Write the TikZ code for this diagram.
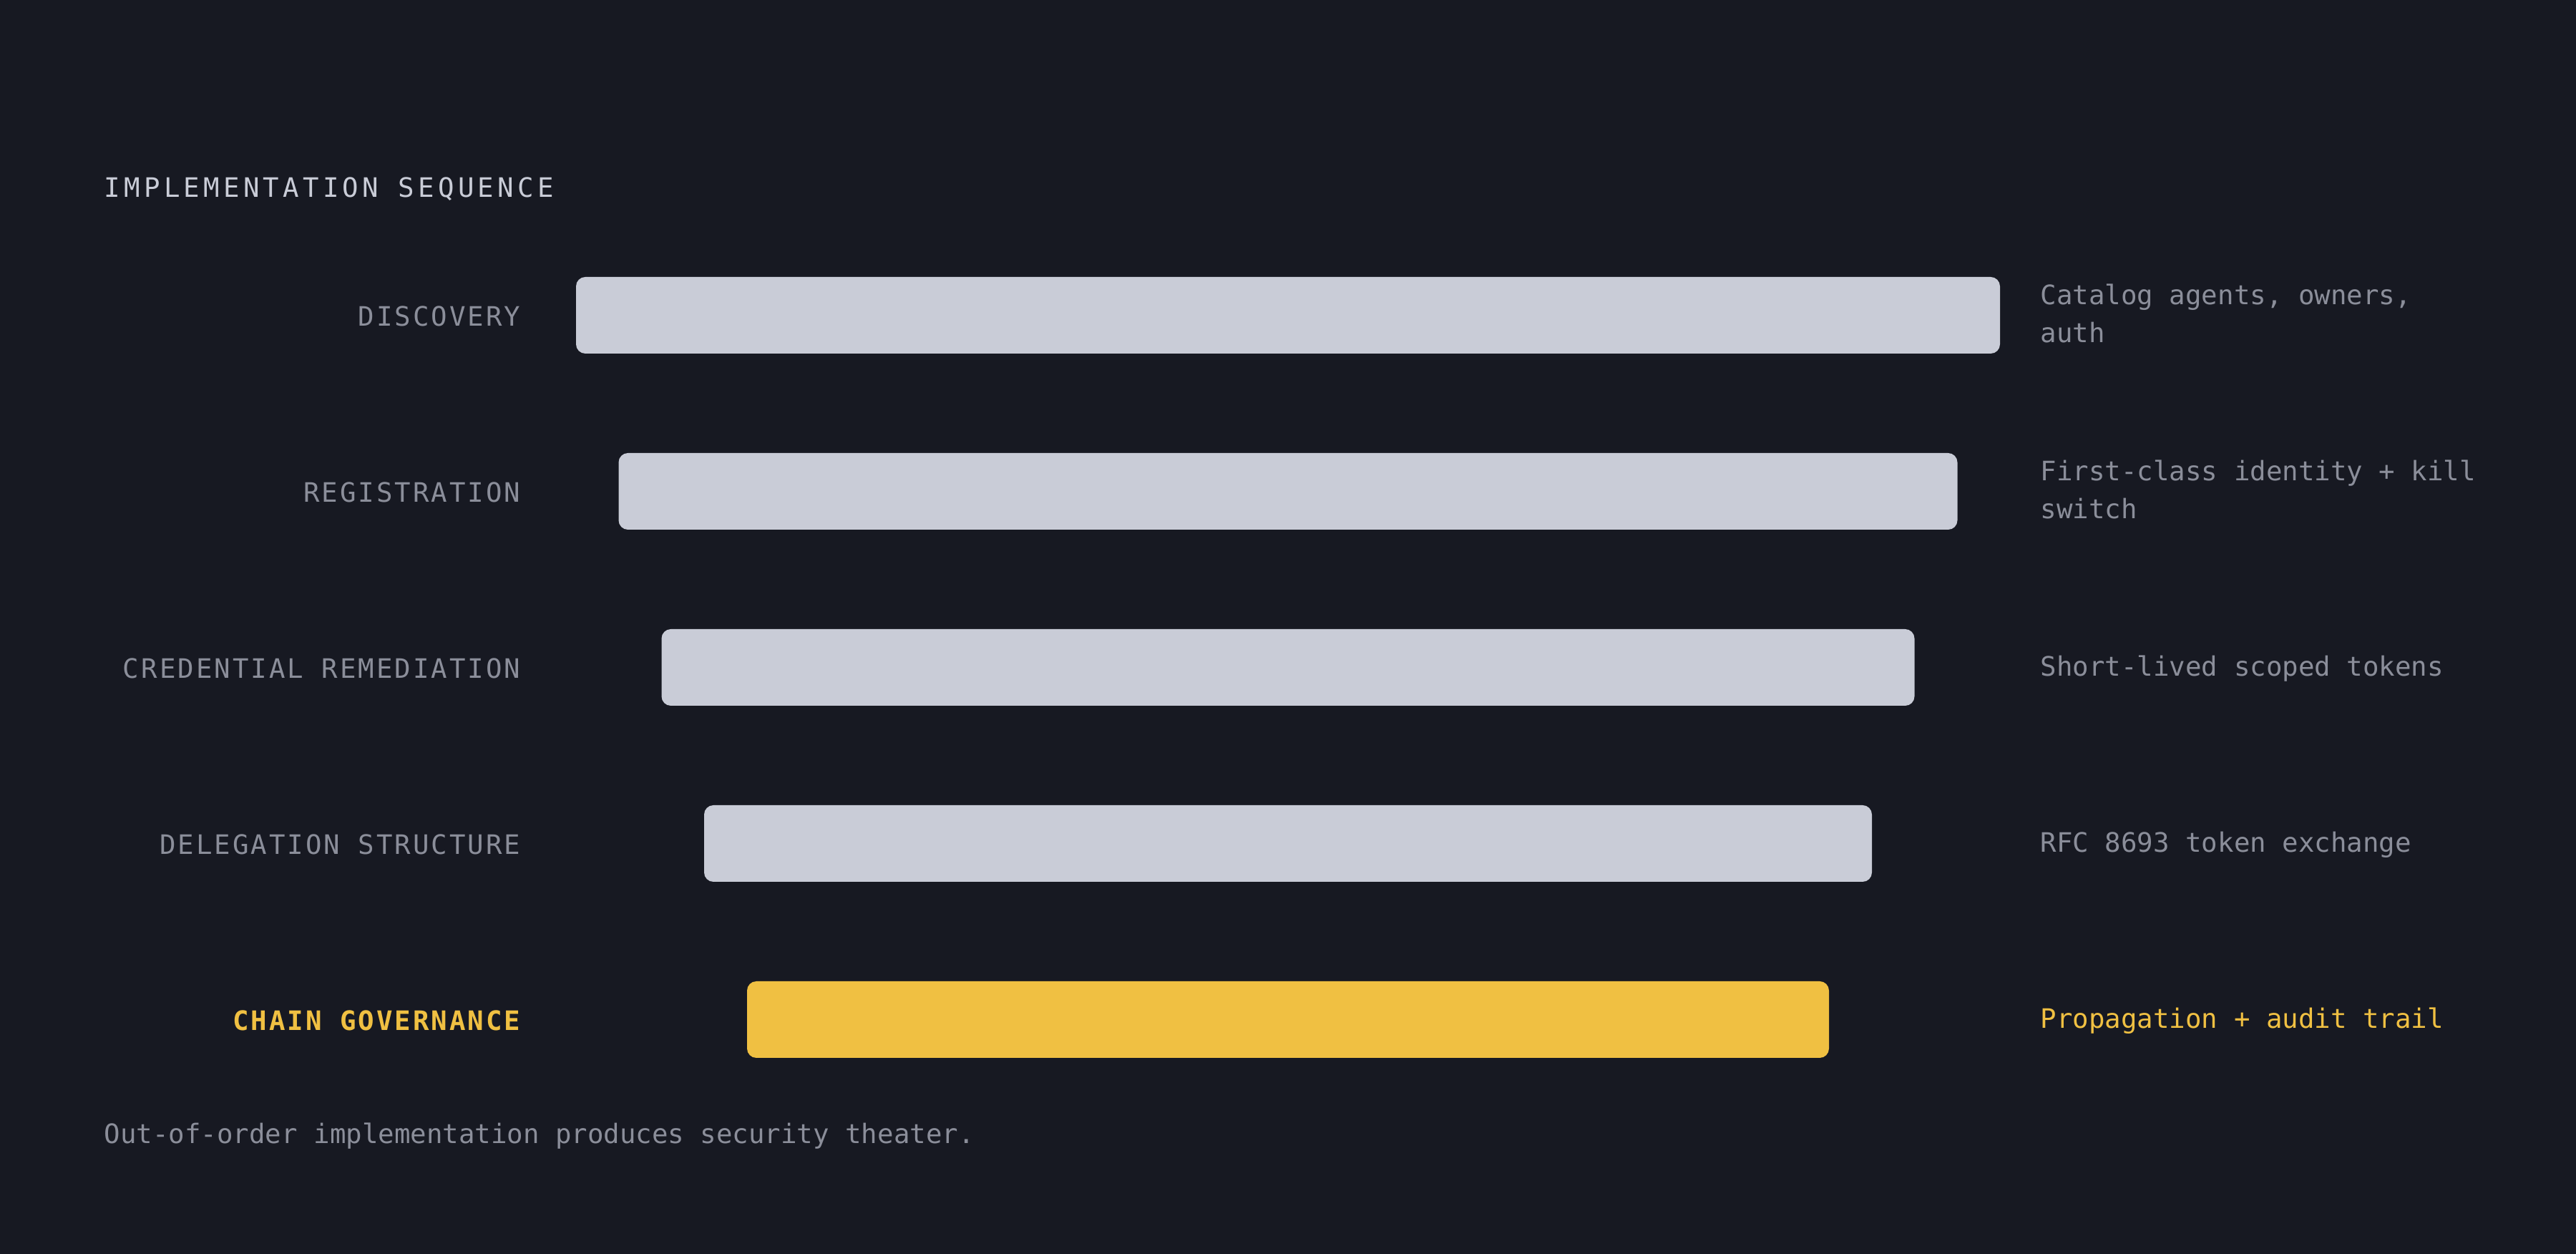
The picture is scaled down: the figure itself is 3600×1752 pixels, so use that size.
\documentclass[tikz,border=0pt]{standalone}
\usepackage{fontspec}
\usepackage{tikz}

\newfontfamily\plainmono{DejaVu Sans Mono}
\newfontfamily\spacedmono[LetterSpace=8]{DejaVu Sans Mono}
\newfontfamily\widemono[LetterSpace=14]{DejaVu Sans Mono}

\definecolor{bg}{HTML}{171922}
\definecolor{bargray}{HTML}{C9CCD7}
\definecolor{accent}{HTML}{F0C042}
\definecolor{dimtext}{HTML}{8B8E9A}

\tikzset{
  bar/.style={rectangle, rounded corners=3.25pt, inner sep=0pt, minimum height=26.75pt, fill=bargray},
  phasename/.style={anchor=base east, inner sep=0pt, text=dimtext, font=\spacedmono\fontsize{9.35}{13.25}\selectfont},
  phasenote/.style={anchor=base west, inner sep=0pt, align=left, text=dimtext, font=\plainmono\fontsize{9.35}{13.25}\selectfont},
  heading/.style={anchor=base west, inner sep=0pt, text=bargray, font=\widemono\fontsize{9.35}{13.25}\selectfont}
}

\begin{document}
\begin{tikzpicture}[x=0.25pt,y=-0.25pt]
      \fill[bg] (0,0) rectangle (3600,1752);

      \node[heading] (t) at (145,276) {IMPLEMENTATION SEQUENCE};

      \node[bar, minimum width=497.5pt] (1) at (1800,440.5) {};
      \node[bar, minimum width=467.75pt] (2) at (1800,686.5) {};
      \node[bar, minimum width=437.75pt] (3) at (1800,932.5) {};
      \node[bar, minimum width=408pt] (4) at (1800,1178.5) {};
      \node[bar, minimum width=378pt, fill=accent] (5) at (1800,1424.5) {};

      \node[phasename] (l1) at (728,455.5) {DISCOVERY};
      \node[phasename] (l2) at (728,701.5) {REGISTRATION};
      \node[phasename] (l3) at (728,947.5) {CREDENTIAL REMEDIATION};
      \node[phasename] (l4) at (728,1193.5) {DELEGATION STRUCTURE};
      \node[phasename, text=accent, font=\spacedmono\bfseries\fontsize{9.35}{13.25}\selectfont] (l5) at (728,1439.5) {CHAIN GOVERNANCE};

      % two-line notes sit on the baseline of their last line
      \node[phasenote] (n1) at (2851,478.5) {Catalog agents, owners,\\auth};
      \node[phasenote] (n2) at (2851,724.5) {First-class identity + kill\\switch};
      \node[phasenote] (n3) at (2851,944.5) {Short-lived scoped tokens};
      \node[phasenote] (n4) at (2851,1190.5) {RFC 8693 token exchange};
      \node[phasenote, text=accent] (n5) at (2851,1436.5) {Propagation + audit trail};

      \node[phasenote] (f) at (145,1597) {Out-of-order implementation produces security theater.};
    \end{tikzpicture}
\end{document}
